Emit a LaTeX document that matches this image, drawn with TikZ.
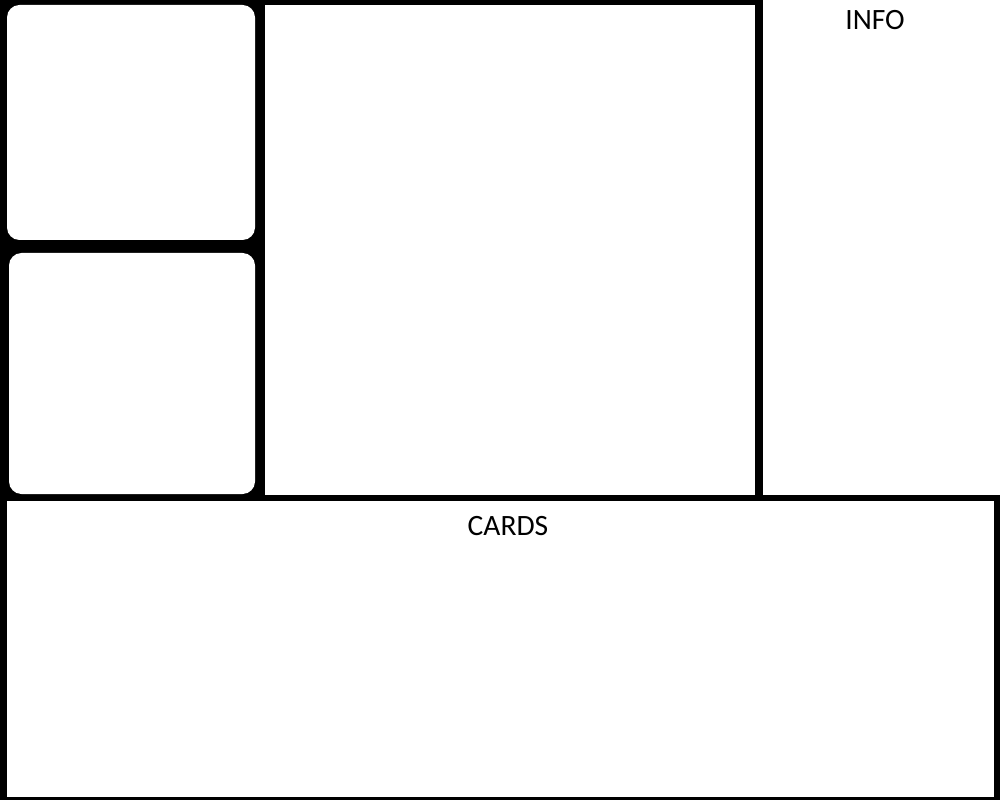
\documentclass[tikz,border=0pt]{standalone}
\usepackage{fontspec}
\setmainfont{Carlito}
\tikzset{
    panel/.style={fill=white},
    slot/.style={fill=white,rounded corners=0.25cm},
    title/.style={font=\fontsize{16.8}{20}\selectfont,inner sep=0pt}
}
\begin{document}
\begin{tikzpicture}[x=0.02cm,y=-0.02cm]
        \fill[black] (0,0) rectangle (1000,800);
        % left slots
        \fill[slot] (7,5) rectangle (255,240);
        \fill[slot] (9,253) rectangle (255,494);
        % board and side panels
        \fill[panel] (265,5) rectangle (755,495);
        \fill[panel] (763,0) rectangle (1000,495);
        \fill[panel] (7,501) rectangle (994,797);
        \node[title] (info) at (875,20) {INFO};
        \node[title] (cards) at (508,526) {CARDS};
    \end{tikzpicture}
\end{document}
